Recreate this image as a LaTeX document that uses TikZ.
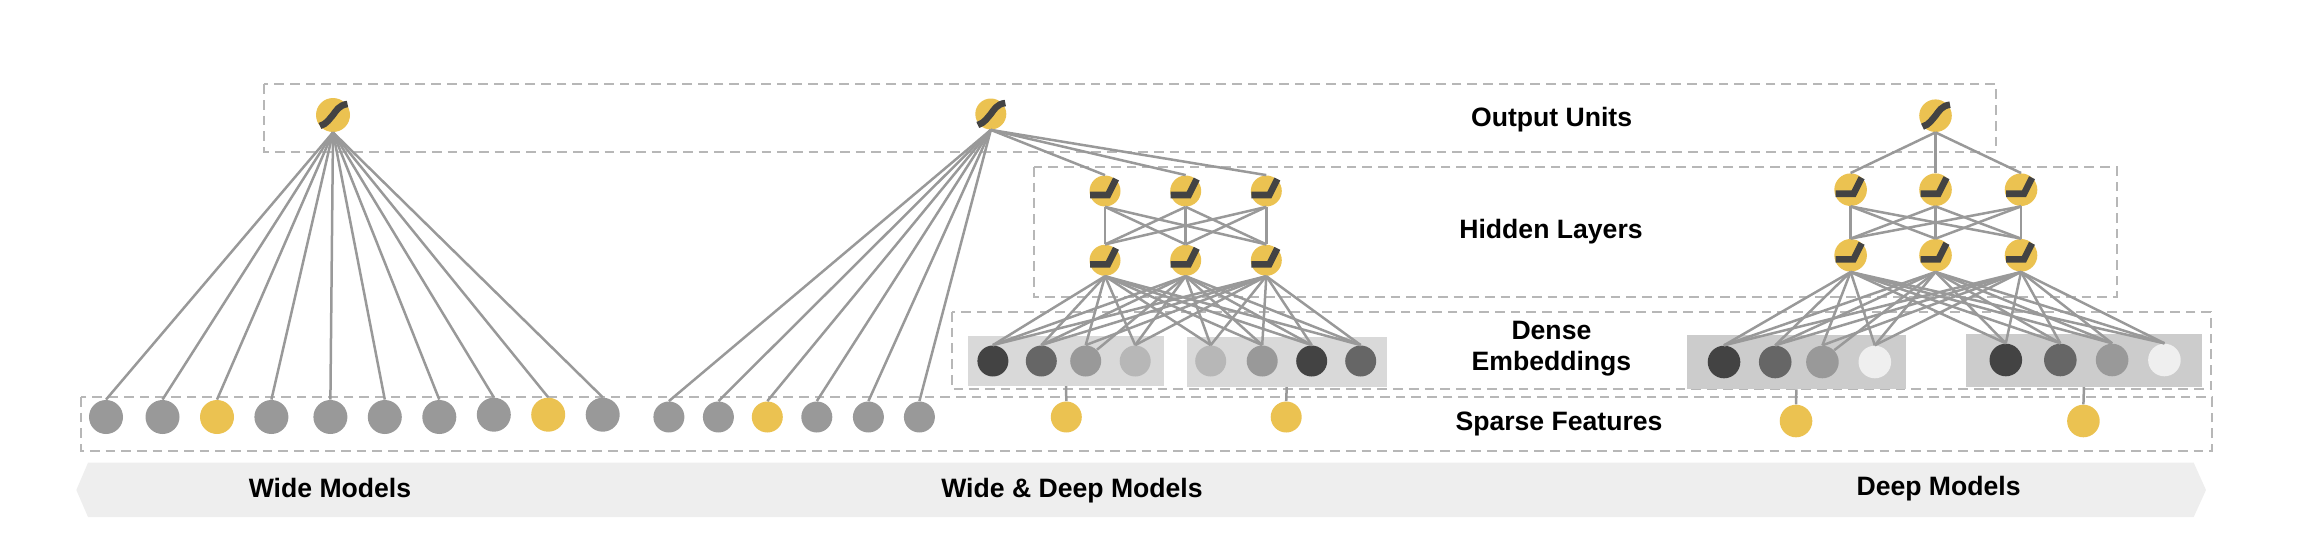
\documentclass[tikz,border=0pt]{standalone}
\usepackage{fontspec}
\setmainfont{Liberation Sans}
\definecolor{yel}{HTML}{EBC251}
\definecolor{lnk}{HTML}{999999}
\definecolor{dsh}{HTML}{B7B7B7}
\definecolor{dk}{HTML}{434343}
\definecolor{md}{HTML}{666666}
\definecolor{lg}{HTML}{B7B7B7}
\definecolor{vl}{HTML}{EFEFEF}
\definecolor{rib}{HTML}{EEEEEE}
\newcommand\actrelu[1]{\begin{scope}[shift={(#1.center)}]\draw[actline] (-15,4) -- (3,4) -- (11,-12);\end{scope}}
\newcommand\actsig[1]{\begin{scope}[shift={(#1.center)}]\draw[actline] (-13,11) .. controls (-6,9) and (-3,3) .. (0,0) .. controls (3,-4) and (6,-10) .. (14.5,-11);\end{scope}}
\begin{document}
\begin{tikzpicture}[x=0.5pt,y=-0.5pt,
  neuron/.style={circle,inner sep=0pt,draw=none,minimum size=#1},
  neuron/.default=15.5pt,
  big/.style={neuron=17pt},
  deepn/.style={neuron=16.3pt},
  actline/.style={draw=dk,line width=3.3pt},
  link/.style={draw=lnk,line width=1.25pt},
  dashbox/.style={draw=dsh,line width=1.1pt,dash pattern=on 4.85pt off 3pt},
  embbox/.style={rectangle,inner sep=0pt,draw=none},
  lab/.style={font=\fontsize{13.3pt}{16pt}\selectfont\bfseries,text=black,inner sep=0pt}]
\useasboundingbox (0,0) rectangle (2322,546);
\fill[rib] (88,462.7) -- (2193.7,462.7) -- (2206,490) -- (2193.7,517) -- (88,517) -- (76.3,490) -- cycle;
\draw[dashbox] (264,84.3) rectangle (1996,152);
\draw[dashbox] (1034,167) rectangle (2117,297);
\draw[dashbox] (952,312) rectangle (2211,389);
\draw[dashbox] (81,397) rectangle (2212,451);
% embedding panels
\node[embbox,fill=black!15,minimum width=97.7pt,minimum height=24.85pt] (r1) at (1066.1,360.85) {};
\node[embbox,fill=black!15,minimum width=100pt,minimum height=24.85pt] (r2) at (1286.7,361.85) {};
\node[embbox,fill=black!20,minimum width=109.35pt,minimum height=26.85pt] (r3) at (1796.35,362.15) {};
\node[embbox,fill=black!20,minimum width=118.05pt,minimum height=26.5pt] (r4) at (2083.95,360.2) {};
% wide model
\node[big,fill=yel] (wo) at (333,115) {};
\actsig{wo}
\foreach \i/\x/\y/\c in {1/106/417/lnk,2/162.5/417/lnk,3/217/417/yel,4/271.4/417/lnk,5/330.4/417/lnk,6/384.8/417/lnk,7/439.3/417/lnk,8/493.8/414.7/lnk,9/548.2/414.7/yel,10/602.7/414.7/lnk}{
  \node[big,fill=\c] (ws\i) at (\x,\y) {};
  \draw[link] (wo.south) -- (ws\i.north);
}
% wide & deep model
\node[neuron,fill=yel] (mo) at (990.8,114) {};
\actsig{mo}
\foreach \i/\x/\c in {1/668.9/lnk,2/718.4/lnk,3/767.3/yel,4/816.8/lnk,5/868.4/lnk,6/919.4/lnk}{
  \node[neuron,fill=\c] (ms\i) at (\x,417) {};
  \draw[link] (mo.south) -- (ms\i.north);
}
\foreach \i/\x in {1/1105,2/1185.7,3/1266.3}{
  \node[neuron,fill=yel] (mh\i) at (\x,191) {};
  \node[neuron,fill=yel] (ml\i) at (\x,260.3) {};
  \actrelu{mh\i}
  \actrelu{ml\i}
  \draw[link] (mo.south) -- (mh\i.north);
}
\foreach \i/\x/\c in {1/992.9/dk,2/1041.3/md,3/1085.7/lnk,4/1135.2/lg,5/1210.7/lg,6/1262.2/lnk,7/1311.7/dk,8/1360.7/md}{
  \node[neuron,fill=\c] (me\i) at (\x,361) {};
}
\foreach \a in {1,2,3}{
  \foreach \b in {1,2,3}{\draw[link] (mh\a.south) -- (ml\b.north);}
  \foreach \b in {1,...,8}{
    \ifnum\a\b=23 \draw[link] (ml\a.south) -- (me\b.45);
    \else \draw[link] (ml\a.south) -- (me\b.north); \fi}
}
\node[neuron,fill=yel] (mf1) at (1066.3,417) {};
\node[neuron,fill=yel] (mf2) at (1286.2,417) {};
\draw[link] (r1.south) -- (mf1.north);
\draw[link] (r2.south) -- (mf2.north);
% deep model
\node[deepn,fill=yel] (do) at (1935.5,115.7) {};
\actsig{do}
\foreach \i/\x in {1/1850.6,2/1935.5,3/2021}{
  \node[deepn,fill=yel] (dh\i) at (\x,189.7) {};
  \node[deepn,fill=yel] (dl\i) at (\x,255.3) {};
  \actrelu{dh\i}
  \actrelu{dl\i}
  \draw[link] (do.south) -- (dh\i.north);
}
\foreach \i/\x/\y/\c in {1/1724/362/dk,2/1775.2/362/md,3/1822.4/362/lnk,4/1874.8/362/vl,5/2005.8/360/dk,6/2060.3/360/md,7/2112.1/360/lnk,8/2164.4/360/vl}{
  \node[deepn,fill=\c] (de\i) at (\x,\y) {};
}
\foreach \a in {1,2,3}{
  \foreach \b in {1,2,3}{\draw[link] (dh\a.south) -- (dl\b.north);}
  \foreach \b in {1,...,8}{
    \ifnum\a\b=23 \draw[link] (dl\a.south) -- (de\b.45);
    \else \draw[link] (dl\a.south) -- (de\b.north); \fi}
}
\node[deepn,fill=yel] (df1) at (1796,421) {};
\node[deepn,fill=yel] (df2) at (2083.4,421) {};
\draw[link] (r3.south) -- (df1.north);
\draw[link] (r4.south) -- (df2.north);
% labels
\node[lab] (t1) at (1551.6,119.5) {Output Units};
\node[lab] (t2) at (1551,231.5) {Hidden Layers};
\node[lab] (t3) at (1551.4,330) {Dense};
\node[lab] (t4) at (1551.4,364) {Embeddings};
\node[lab] (t5) at (1559,423.5) {Sparse Features};
\node[lab] (t6) at (330,488) {Wide Models};
\node[lab] (t7) at (1072,491) {Wide \& Deep Models};
\node[lab] (t8) at (1938.6,488.5) {Deep Models};
\end{tikzpicture}
\end{document}
